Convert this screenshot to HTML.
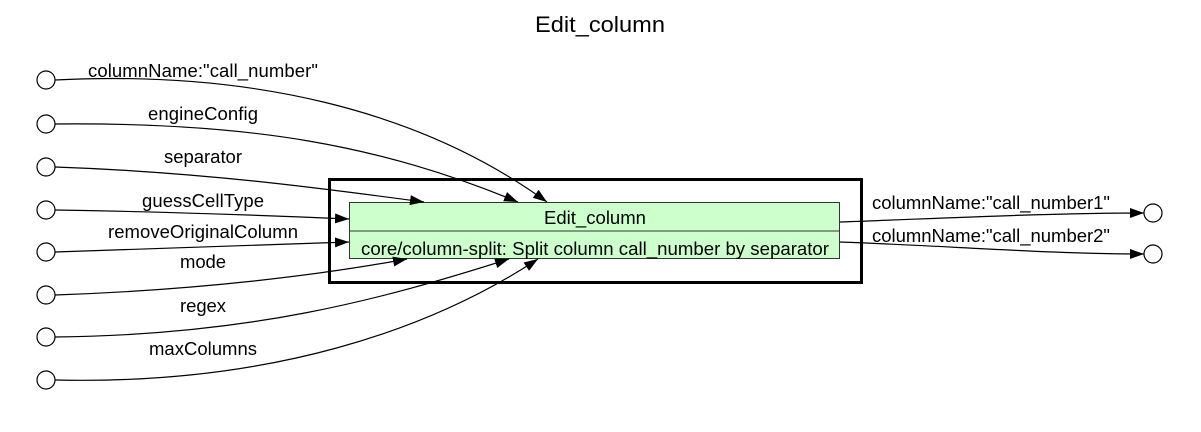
<!DOCTYPE html>
<html><head><meta charset="utf-8"><style>
body{margin:0;background:#fff;width:1201px;height:427px;overflow:hidden}
svg text{font-family:"Liberation Sans",Arial,sans-serif;fill:#000}
</style></head><body>
<svg width="1201" height="427" viewBox="0 0 1201 427" xmlns="http://www.w3.org/2000/svg">
<defs><marker id="a" markerWidth="14" markerHeight="10" refX="14" refY="5" orient="auto" markerUnits="userSpaceOnUse"><path d="M0,0 L14,5 L0,10 z" fill="#000"/></marker></defs>
<text x="600" y="32" font-size="22" text-anchor="middle" textLength="130" lengthAdjust="spacingAndGlyphs">Edit_column</text>
<rect x="329.5" y="179.5" width="532" height="103" fill="none" stroke="#000" stroke-width="3"/>
<rect x="349.5" y="202.5" width="490" height="56" fill="#ccffcc" stroke="#333" stroke-width="1"/>
<line x1="349.5" y1="231" x2="839.5" y2="231" stroke="#333"/>
<text x="544" y="224" font-size="18.5" textLength="102" lengthAdjust="spacingAndGlyphs">Edit_column</text>
<text x="361" y="255" font-size="18.5" textLength="468" lengthAdjust="spacingAndGlyphs">core/column-split: Split column call_number by separator</text>
<g fill="#fff" stroke="#000" stroke-width="1.2">
<circle cx="46" cy="80" r="9"/><circle cx="46" cy="124" r="9"/><circle cx="46" cy="167" r="9"/><circle cx="46" cy="210" r="9"/><circle cx="46" cy="252" r="9"/><circle cx="46" cy="295" r="9"/><circle cx="46" cy="337" r="9"/><circle cx="46" cy="380" r="9"/>
<circle cx="1153" cy="213" r="9"/><circle cx="1153" cy="254" r="9"/>
</g>
<g fill="none" stroke="#000" stroke-width="1.2" marker-end="url(#a)">
<path d="M55,80 C250,70 420,110 547,202"/>
<path d="M55,124 C250,122 380,145 518,202"/>
<path d="M55,167 C200,172 320,188 424,202"/>
<path d="M55,210 C180,212 280,216 349,219"/>
<path d="M55,252 C180,248 280,244 349,242"/>
<path d="M55,295 C200,290 320,275 407,259"/>
<path d="M55,337 C250,335 380,300 509,259"/>
<path d="M55,380 C270,385 430,330 538,259"/>
<path d="M840,222 C950,218 1050,213 1144,213"/>
<path d="M840,242 C950,246 1050,254 1144,254"/>
</g>
<g font-size="18.5" lengthAdjust="spacingAndGlyphs">
<text x="88" y="77" textLength="230">columnName:"call_number"</text>
<text x="148" y="120" textLength="110">engineConfig</text>
<text x="164" y="163" textLength="78">separator</text>
<text x="142" y="207" textLength="122">guessCellType</text>
<text x="108" y="238" textLength="190">removeOriginalColumn</text>
<text x="180" y="268" textLength="46">mode</text>
<text x="180" y="312" textLength="46">regex</text>
<text x="149" y="355" textLength="108">maxColumns</text>
<text x="872" y="209" textLength="238">columnName:"call_number1"</text>
<text x="872" y="242" textLength="238">columnName:"call_number2"</text>
</g>
</svg>
</body></html>
